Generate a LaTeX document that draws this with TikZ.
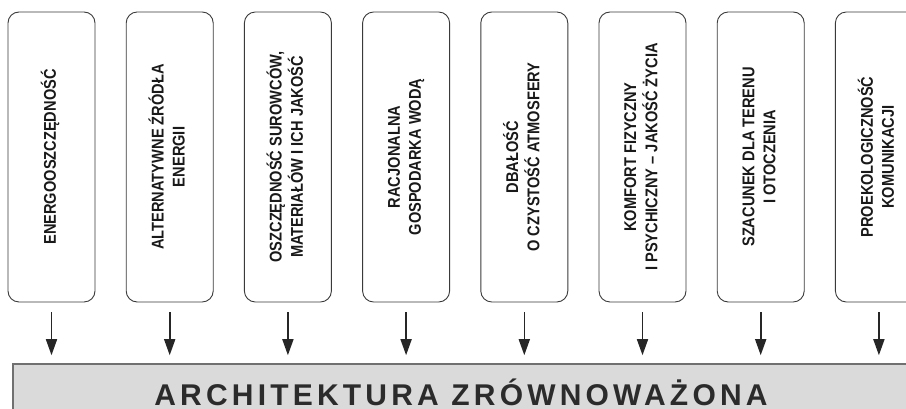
\documentclass[tikz,border=0pt]{standalone}
\usepackage{fontspec}
\setmainfont{Liberation Sans}
\newfontfamily\narrowfont[FakeStretch=0.86]{Liberation Sans}
\newfontfamily\spacedfont[LetterSpace=14]{Liberation Sans}
\usepackage{graphicx}
\usetikzlibrary{arrows.meta,positioning}
\definecolor{boxLineColor}{HTML}{3A3A3A}
\definecolor{archFillColor}{HTML}{D9DAD9}
\definecolor{archLineColor}{HTML}{707070}
\definecolor{archTextColor}{HTML}{2B2B2B}
\newcommand{\vlabel}[1]{\rotatebox{90}{\begin{tabular}{@{}c@{}}#1\end{tabular}}}

\begin{document}
\begin{tikzpicture}[x=1pt,y=1pt,%
    >={Triangle[length=16pt,width=11pt]},every node/.style={font=\bfseries}]
    \tikzstyle{base}=[node distance=30.3pt,draw=boxLineColor,line width=0.9pt]
    \tikzstyle{pillar}=[base,rectangle,rounded corners=11pt,minimum width=87pt,minimum height=290pt,inner sep=0pt,text=black!90,font=\narrowfont\bfseries\fontsize{17}{21}\selectfont]
    \tikzstyle{arch}=[rectangle,fill=archFillColor,draw=archLineColor,line width=1.5pt,minimum width=896pt,minimum height=56pt,text=archTextColor,font=\spacedfont\bfseries\fontsize{30}{36}\selectfont]
    \tikzstyle{flow}=[->,line width=1.6pt,draw=black!85,shorten <=10pt,shorten >=8pt]
    \useasboundingbox (0,0) rectangle (906,409);
    \clip (0,0) rectangle (906,409);
    % All pillars
    \node (energy) [pillar] at (51.5,252)           {\vlabel{ENERGOOSZCZĘDNOŚĆ}};
    \node (altSources) [pillar,right=of energy]
          {\vlabel{ALTERNATYWNE ŹRÓDŁA\\ENERGII}};
    \node (resources) [pillar,right=of altSources]
          {\vlabel{OSZCZĘDNOŚĆ SUROWCÓW,\\MATERIAŁÓW I ICH JAKOŚĆ}};
    \node (water) [pillar,right=of resources]
          {\vlabel{RACJONALNA\\GOSPODARKA WODĄ}};
    \node (atmosphere) [pillar,right=of water]
          {\vlabel{DBAŁOŚĆ\\O CZYSTOŚĆ ATMOSFERY}};
    \node (comfort) [pillar,right=of atmosphere]
          {\vlabel{KOMFORT FIZYCZNY\\I PSYCHICZNY – JAKOŚĆ ŻYCIA}};
    \node (terrain) [pillar,right=of comfort]
          {\vlabel{SZACUNEK DLA TERENU\\I OTOCZENIA}};
    \node (transport) [pillar,right=of terrain]
          {\vlabel{PROEKOLOGICZNOŚĆ\\KOMUNIKACJI}};
    \node (architecture) [arch] at (461,17)          {ARCHITEKTURA ZRÓWNOWAŻONA};
    % Edges
    \draw [flow] (energy) -- (energy.south |- architecture.north);
    \draw [flow] (altSources) -- (altSources.south |- architecture.north);
    \draw [flow] (resources) -- (resources.south |- architecture.north);
    \draw [flow] (water) -- (water.south |- architecture.north);
    \draw [flow] (atmosphere) -- (atmosphere.south |- architecture.north);
    \draw [flow] (comfort) -- (comfort.south |- architecture.north);
    \draw [flow] (terrain) -- (terrain.south |- architecture.north);
    \draw [flow] (transport) -- (transport.south |- architecture.north);
\end{tikzpicture}
\end{document}
